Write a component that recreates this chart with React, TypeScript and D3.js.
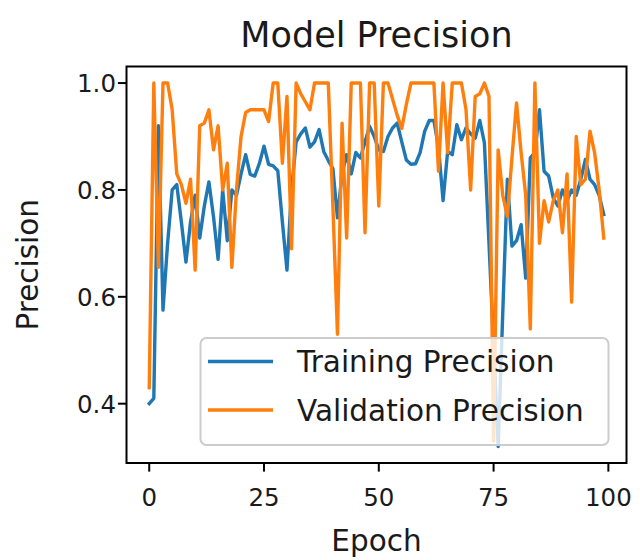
import React from "react";
import * as d3 from "d3";

const epochs: number[] = d3.range(100);

const trainingPrecision: number[] = [
  0.40, 0.41, 0.92, 0.575, 0.70, 0.80, 0.81, 0.74, 0.665, 0.74,
  0.79, 0.71, 0.77, 0.815, 0.75, 0.67, 0.80, 0.705, 0.80, 0.79,
  0.83, 0.866, 0.829, 0.826, 0.85, 0.882, 0.848, 0.845, 0.836, 0.74,
  0.65, 0.80, 0.89, 0.905, 0.916, 0.88, 0.89, 0.913, 0.872, 0.855,
  0.84, 0.748, 0.83, 0.866, 0.83, 0.87, 0.86, 0.89, 0.919, 0.90,
  0.875, 0.872, 0.90, 0.916, 0.925, 0.89, 0.856, 0.848, 0.849, 0.87,
  0.91, 0.93, 0.93, 0.88, 0.78, 0.872, 0.866, 0.922, 0.894, 0.916,
  0.905, 0.897, 0.93, 0.888, 0.70, 0.51, 0.32, 0.57, 0.82, 0.695,
  0.705, 0.735, 0.635, 0.86, 0.87, 0.95, 0.835, 0.826, 0.785, 0.77,
  0.80, 0.78, 0.80, 0.79, 0.82, 0.857, 0.82, 0.81, 0.79, 0.754,
];

const validationPrecision: number[] = [
  0.43, 1.0, 0.655, 1.0, 1.0, 0.95, 0.83, 0.81, 0.775, 0.82,
  0.65, 0.92, 0.925, 0.95, 0.875, 0.92, 0.80, 0.85, 0.655, 0.80,
  0.90, 0.945, 0.95, 0.95, 0.95, 0.95, 0.928, 1.0, 1.0, 0.85,
  0.975, 0.69, 1.0, 0.98, 0.965, 0.95, 1.0, 1.0, 1.0, 1.0,
  0.77, 0.53, 0.925, 0.71, 1.0, 1.0, 1.0, 0.72, 1.0, 1.0,
  0.77, 1.0, 1.0, 0.97, 0.94, 0.915, 0.96, 1.0, 1.0, 1.0,
  1.0, 1.0, 1.0, 0.835, 1.0, 0.87, 1.0, 1.0, 1.0, 0.95,
  0.80, 0.975, 0.98, 1.0, 0.975, 0.33, 0.875, 0.79, 0.75, 0.86,
  0.963, 0.87, 0.79, 0.54, 1.0, 0.70, 0.78, 0.74, 0.78, 0.80,
  0.72, 0.83, 0.59, 0.90, 0.81, 0.82, 0.91, 0.87, 0.80, 0.71,
];

const xTicks: number[] = [0, 25, 50, 75, 100];
const yTicks: number[] = [0.4, 0.6, 0.8, 1.0];
const seriesNames: string[] = ["Training Precision", "Validation Precision"];
const seriesColors: string[] = ["#1f77b4", "#ff7f0e"];
const titleText = "Model Precision";
const xLabel = "Epoch";
const yLabel = "Precision";

const W = 640;
const H = 560;
const plot = { left: 126.5, right: 626.5, top: 66.5, bottom: 463 };
const FONT = "DejaVu Sans, sans-serif";

export default function App() {
  const x = d3.scaleLinear().domain([-4.95, 103.95]).range([plot.left, plot.right]);
  const y = d3.scaleLinear().domain([0.289, 1.031]).range([plot.bottom, plot.top]);
  const line = d3
    .line<[number, number]>()
    .x((d) => x(d[0]))
    .y((d) => y(d[1]));
  const series = [trainingPrecision, validationPrecision].map((vals) =>
    line(epochs.map((e, i) => [e, vals[i]] as [number, number]))
  );

  const leg = { x0: 200.5, x1: 608.5, y0: 338, y1: 445 };
  const rowY = [361.5, 410];

  return (
    <svg
      width={W}
      height={H}
      style={{ position: "absolute", left: 0, top: 0, background: "#fff" }}
      fontFamily={FONT}
    >
      <rect x={0} y={0} width={W} height={H} fill="#fff" />
      <text x={(plot.left + plot.right) / 2} y={47} textAnchor="middle" fontSize={35} fill="#1a1a1a">
        {titleText}
      </text>
      <g>
        {series.map((d, i) => (
          <path key={i} d={d || ""} fill="none" stroke={seriesColors[i]} strokeWidth={3.4} strokeLinejoin="round" strokeLinecap="square" />
        ))}
      </g>
      {/* legend */}
      <rect
        x={leg.x0}
        y={leg.y0}
        width={leg.x1 - leg.x0}
        height={leg.y1 - leg.y0}
        rx={6}
        fill="#fff"
        fillOpacity={0.8}
        stroke="#cccccc"
        strokeWidth={2}
      />
      {seriesNames.map((n, i) => (
        <g key={n}>
          <line x1={208} x2={273} y1={rowY[i]} y2={rowY[i]} stroke={seriesColors[i]} strokeWidth={3.4} />
          <text x={297} y={rowY[i]} dy="0.36em" fontSize={29.5} fill="#1a1a1a">
            {n}
          </text>
        </g>
      ))}
      {/* axes frame */}
      <rect
        x={plot.left}
        y={plot.top}
        width={plot.right - plot.left}
        height={plot.bottom - plot.top}
        fill="none"
        stroke="#000"
        strokeWidth={2}
      />
      {xTicks.map((t) => (
        <g key={t}>
          <line x1={x(t)} x2={x(t)} y1={plot.bottom} y2={plot.bottom + 8.6} stroke="#000" strokeWidth={2} />
          <text x={x(t)} y={506} textAnchor="middle" fontSize={24.5} fill="#1a1a1a">
            {t}
          </text>
        </g>
      ))}
      {yTicks.map((t) => (
        <g key={t}>
          <line x1={plot.left - 8.6} x2={plot.left} y1={y(t)} y2={y(t)} stroke="#000" strokeWidth={2} />
          <text x={116} y={y(t)} dy="0.36em" textAnchor="end" fontSize={24.5} fill="#1a1a1a">
            {t.toFixed(1)}
          </text>
        </g>
      ))}
      <text x={(plot.left + plot.right) / 2} y={551} textAnchor="middle" fontSize={29.5} fill="#1a1a1a">
        {xLabel}
      </text>
      <text
        transform={`translate(38, ${(plot.top + plot.bottom) / 2}) rotate(-90)`}
        textAnchor="middle"
        fontSize={29.5}
        fill="#1a1a1a"
      >
        {yLabel}
      </text>
    </svg>
  );
}
